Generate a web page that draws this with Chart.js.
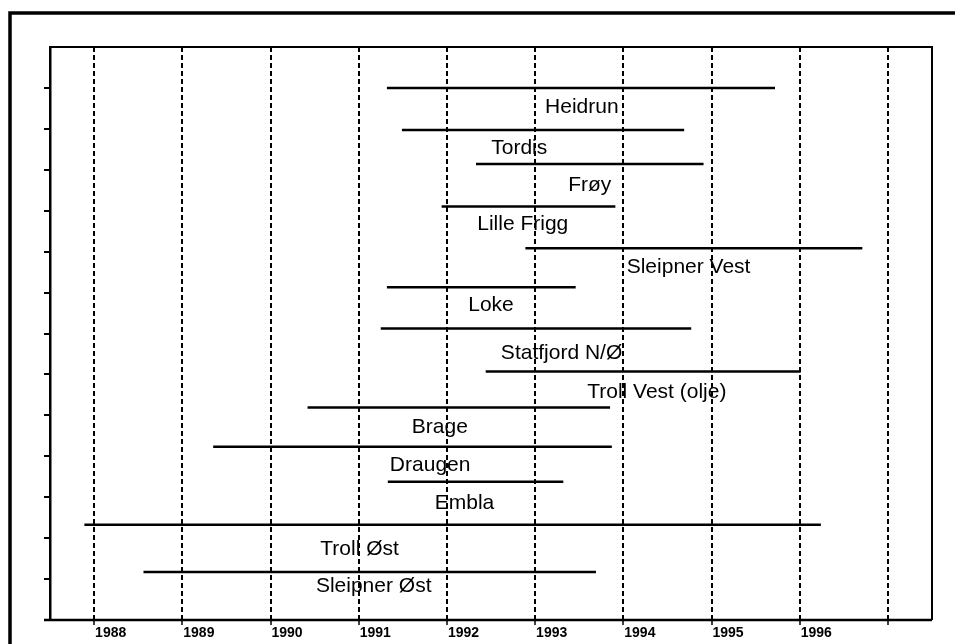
<!DOCTYPE html>
<html>
<head>
<meta charset="utf-8">
<script src="https://cdn.jsdelivr.net/npm/chart.js@4"></script>
<style>
  html, body { margin: 0; padding: 0; background: #fff; }
  #wrap { width: 955px; height: 644px; position: relative; }
</style>
</head>
<body>
<div id="wrap"><canvas id="dataChart"></canvas></div>
<script>
// Projects, top to bottom
const projects = ["Heidrun", "Tordis", "Frøy", "Lille Frigg", "Sleipner Vest", "Loke",
    "Statfjord N/Ø", "Troll Vest (olje)", "Brage", "Draugen", "Embla", "Troll Øst", "Sleipner Øst"];
// Start / end of each bar (years)
const startYear = [1991.32, 1991.49, 1992.33, 1991.94, 1992.89, 1991.32, 1991.25, 1992.44, 1990.42, 1989.35, 1991.33, 1987.89, 1988.56];
const endYear   = [1995.72, 1994.69, 1994.91, 1993.91, 1996.71, 1993.46, 1994.77, 1996.01, 1993.85, 1993.87, 1993.32, 1996.24, 1993.69];
// Vertical level of each bar
const rowLevel  = [13.0, 11.97, 11.14, 10.1, 9.08, 8.13, 7.12, 6.07, 5.19, 4.23, 3.38, 2.33, 1.17];
// Where each name sits
const labelX = [1993.53, 1992.82, 1993.62, 1992.86, 1994.74, 1992.50, 1993.30, 1994.38, 1991.92, 1991.81, 1992.20, 1991.01, 1991.17];
const labelY = [12.53, 11.53, 10.62, 9.67, 8.61, 7.68, 6.51, 5.56, 4.72, 3.77, 2.86, 1.74, 0.83];
// Axis ticks
const yearTicks  = [1988, 1989, 1990, 1991, 1992, 1993, 1994, 1995, 1996, 1997];
const yearLabels = ["1988", "1989", "1990", "1991", "1992", "1993", "1994", "1995", "1996", ""];
const levelTicks = [1, 2, 3, 4, 5, 6, 7, 8, 9, 10, 11, 12, 13];

const datasets = projects.map((name, i) => ({
    label: name,
    data: [{ x: startYear[i], y: rowLevel[i] }, { x: endYear[i], y: rowLevel[i] }],
    showLine: true,
    borderColor: "#000",
    borderWidth: 2.5,
    pointRadius: 0,
    fill: false
}));

// outer frame and plot box
const framePlugin = {
    id: "frame",
    beforeDraw(chart) {
        const ctx = chart.ctx;
        ctx.save();
        ctx.strokeStyle = "#000";
        ctx.lineWidth = 3.5;
        ctx.beginPath();
        ctx.moveTo(10, 644);
        ctx.lineTo(10, 13);
        ctx.lineTo(955, 13);
        ctx.stroke();
        ctx.restore();
    },
    afterDraw(chart) {
        const { ctx, chartArea: a } = chart;
        ctx.save();
        ctx.strokeStyle = "#000";
        ctx.lineWidth = 2;
        ctx.beginPath();
        ctx.moveTo(a.left, a.top);
        ctx.lineTo(a.right, a.top);
        ctx.lineTo(a.right, a.bottom);
        ctx.stroke();
        // solid bottom axis, running a bit past the left axis
        ctx.lineWidth = 2.5;
        ctx.beginPath();
        ctx.moveTo(a.left - 6, a.bottom);
        ctx.lineTo(a.right, a.bottom);
        ctx.stroke();
        ctx.restore();
    }
};

// project names under the bars
const namePlugin = {
    id: "names",
    afterDatasetsDraw(chart) {
        const { ctx, scales } = chart;
        ctx.save();
        ctx.fillStyle = "#000";
        ctx.font = "21px 'Liberation Sans', Arial, sans-serif";
        ctx.textAlign = "center";
        ctx.textBaseline = "middle";
        projects.forEach((name, i) => {
            ctx.fillText(name, scales.x.getPixelForValue(labelX[i]), scales.y.getPixelForValue(labelY[i]));
        });
        ctx.restore();
    }
};

new Chart(document.getElementById("dataChart"), {
    type: "scatter",
    data: { datasets },
    options: {
        responsive: true,
        maintainAspectRatio: false,
        animation: false,
        layout: { padding: { top: 47, right: 23, left: 0, bottom: 0 } },
        plugins: { legend: { display: false }, tooltip: { enabled: false } },
        scales: {
            x: {
                type: "linear",
                min: 1987.5,
                max: 1997.5,
                afterBuildTicks: axis => { axis.ticks = yearTicks.map(v => ({ value: v })); },
                afterFit: axis => { axis.height = 24; },
                grid: {
                    color: "#000",
                    lineWidth: 2,
                    tickLength: 5,
                    tickWidth: 1.5,
                    tickBorderDash: []
                },
                // in v4 the grid line dash comes from border.dash
                border: { display: false, dash: [5, 3] },
                ticks: {
                    align: "start",
                    labelOffset: 1,
                    padding: 0,
                    color: "#000",
                    font: { family: "'Liberation Sans', Arial, sans-serif", size: 14, weight: "bold" },
                    callback: (v, i) => yearLabels[i]
                }
            },
            y: {
                type: "linear",
                min: 0,
                max: 14,
                afterBuildTicks: axis => { axis.ticks = levelTicks.map(v => ({ value: v })); },
                afterFit: axis => { axis.width = 50; },
                grid: {
                    drawOnChartArea: false,
                    color: "#000",
                    lineWidth: 2,
                    tickLength: 6
                },
                border: { display: true, color: "#000", width: 2.5 },
                ticks: { display: false }
            }
        }
    },
    plugins: [framePlugin, namePlugin]
});
</script>
</body>
</html>
